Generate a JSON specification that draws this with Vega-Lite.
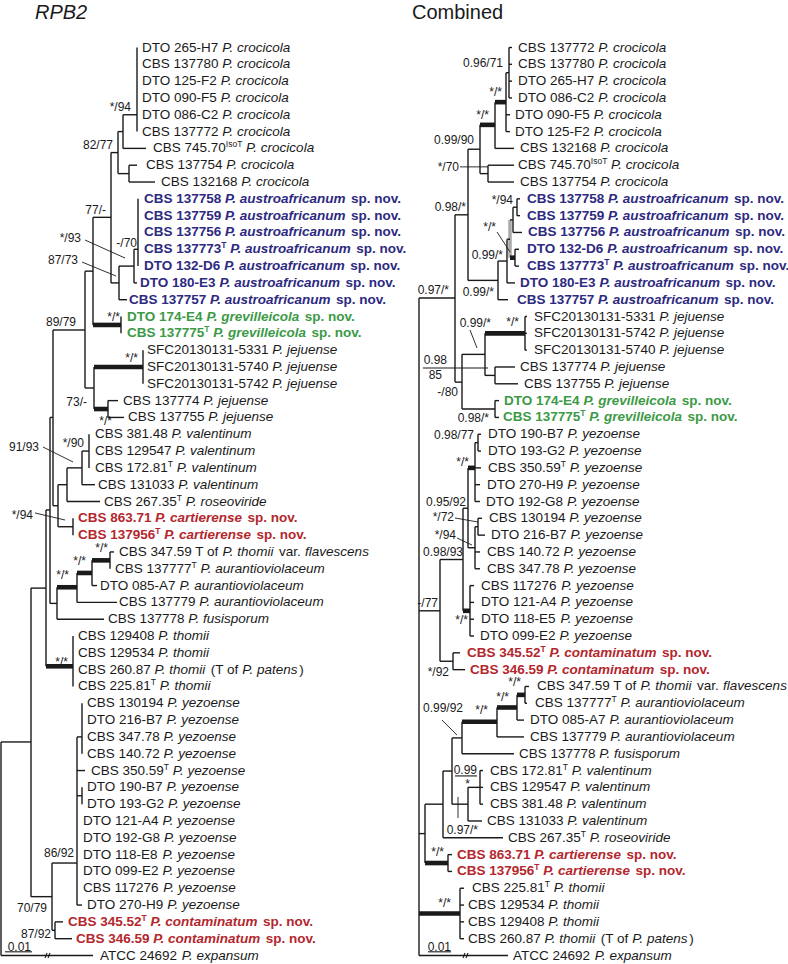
{
"$schema":"https://vega.github.io/schema/vega-lite/v6.json",
"padding":0,"spacing":0,"bounds":"flush","background":"white",
"config":{"view":{"stroke":null}},
"datasets":{
"segs":[
{"t":"L","x":136,"x2":136,"row":0,"row2":5,"k":"b"},{"t":"L","x":122,"x2":122,"row":4,"row2":6,"k":"b"},{"t":"L","x":117,"x2":117,"row":5,"row2":7.5,"k":"b"},{"t":"L","x":128,"x2":128,"row":7,"row2":8,"k":"b"},{"t":"L","x":110,"x2":110,"row":6.25,"row2":14,"k":"b"},{"t":"L","x":118,"x2":118,"row":13,"row2":15,"k":"b"},{"t":"L","x":133,"x2":133,"row":12,"row2":14,"k":"b"},{"t":"L","x":137,"x2":137,"row":9,"row2":13,"k":"b"},{"t":"L","x":92,"x2":92,"row":10.1,"row2":16.5,"k":"b"},{"t":"L","x":120,"x2":120,"row":16,"row2":17,"k":"b"},{"t":"L","x":84,"x2":84,"row":13.3,"row2":20.25,"k":"b"},{"t":"L","x":93,"x2":93,"row":19,"row2":21.5,"k":"b"},{"t":"L","x":142,"x2":142,"row":18,"row2":20,"k":"b"},{"t":"L","x":107,"x2":107,"row":21,"row2":22,"k":"b"},{"t":"L","x":52,"x2":52,"row":16.8,"row2":27.25,"k":"b"},{"t":"L","x":57,"x2":57,"row":26,"row2":28.5,"k":"b"},{"t":"L","x":66,"x2":66,"row":25,"row2":27,"k":"b"},{"t":"L","x":81,"x2":81,"row":24,"row2":26,"k":"b"},{"t":"L","x":88,"x2":88,"row":23,"row2":25,"k":"b"},{"t":"L","x":72,"x2":72,"row":28,"row2":29,"k":"b"},{"t":"L","x":49,"x2":49,"row":22,"row2":33.06,"k":"b"},{"t":"L","x":56,"x2":56,"row":32.1,"row2":34,"k":"b"},{"t":"L","x":76,"x2":76,"row":31.25,"row2":33,"k":"b"},{"t":"L","x":91,"x2":91,"row":30.5,"row2":32,"k":"b"},{"t":"L","x":109,"x2":109,"row":30,"row2":31,"k":"b"},{"t":"L","x":45,"x2":45,"row":27.5,"row2":36.8,"k":"b"},{"t":"L","x":72,"x2":72,"row":35,"row2":38,"k":"b"},{"t":"L","x":30,"x2":30,"row":32.15,"row2":50.5,"k":"b"},{"t":"L","x":51,"x2":51,"row":48.5,"row2":52.5,"k":"b"},{"t":"L","x":76,"x2":76,"row":41,"row2":51,"k":"b"},{"t":"L","x":81,"x2":81,"row":39,"row2":42,"k":"b"},{"t":"L","x":81,"x2":81,"row":44,"row2":45,"k":"b"},{"t":"L","x":54,"x2":54,"row":52,"row2":53,"k":"b"},{"t":"L","x":0,"x2":0,"row":41.3,"row2":54,"k":"b"},
{"t":"L","x":122,"x2":136,"row":4,"row2":4,"k":"b"},{"t":"L","x":122,"x2":145,"row":6,"row2":6,"k":"b"},{"t":"L","x":117,"x2":122,"row":5,"row2":5,"k":"b"},{"t":"L","x":117,"x2":128,"row":7.5,"row2":7.5,"k":"b"},{"t":"L","x":128,"x2":136,"row":7,"row2":7,"k":"b"},{"t":"L","x":128,"x2":154,"row":8,"row2":8,"k":"b"},{"t":"L","x":110,"x2":117,"row":6.25,"row2":6.25,"k":"b"},{"t":"L","x":110,"x2":118,"row":14,"row2":14,"k":"b"},{"t":"L","x":118,"x2":133,"row":13,"row2":13,"k":"b"},{"t":"L","x":133,"x2":137,"row":12,"row2":12,"k":"b"},{"t":"L","x":133,"x2":136,"row":14,"row2":14,"k":"b"},{"t":"L","x":118,"x2":126,"row":15,"row2":15,"k":"b"},{"t":"L","x":92,"x2":110,"row":10.1,"row2":10.1,"k":"b"},{"t":"L","x":92,"x2":120,"row":16.5,"row2":16.5,"k":"s"},{"t":"L","x":84,"x2":92,"row":13.3,"row2":13.3,"k":"b"},{"t":"L","x":84,"x2":93,"row":20.25,"row2":20.25,"k":"b"},{"t":"L","x":93,"x2":142,"row":19,"row2":19,"k":"s"},{"t":"L","x":93,"x2":107,"row":21.5,"row2":21.5,"k":"s"},{"t":"L","x":107,"x2":117,"row":21,"row2":21,"k":"b"},{"t":"L","x":107,"x2":123,"row":22,"row2":22,"k":"b"},{"t":"L","x":52,"x2":84,"row":16.8,"row2":16.8,"k":"b"},{"t":"L","x":52,"x2":57,"row":27.25,"row2":27.25,"k":"b"},{"t":"L","x":57,"x2":66,"row":26,"row2":26,"k":"b"},{"t":"L","x":66,"x2":81,"row":25,"row2":25,"k":"b"},{"t":"L","x":81,"x2":88,"row":24,"row2":24,"k":"b"},{"t":"L","x":81,"x2":94,"row":26,"row2":26,"k":"b"},{"t":"L","x":66,"x2":99,"row":27,"row2":27,"k":"b"},{"t":"L","x":57,"x2":72,"row":28.5,"row2":28.5,"k":"b"},{"t":"L","x":49,"x2":52,"row":22,"row2":22,"k":"b"},{"t":"L","x":49,"x2":56,"row":33.06,"row2":33.06,"k":"b"},{"t":"L","x":56,"x2":76,"row":32.1,"row2":32.1,"k":"s"},{"t":"L","x":76,"x2":91,"row":31.25,"row2":31.25,"k":"s"},{"t":"L","x":91,"x2":109,"row":30.5,"row2":30.5,"k":"s"},{"t":"L","x":109,"x2":113,"row":30,"row2":30,"k":"b"},{"t":"L","x":91,"x2":96,"row":32,"row2":32,"k":"b"},{"t":"L","x":76,"x2":116,"row":33,"row2":33,"k":"b"},{"t":"L","x":56,"x2":103,"row":34,"row2":34,"k":"b"},{"t":"L","x":45,"x2":49,"row":27.5,"row2":27.5,"k":"b"},{"t":"L","x":45,"x2":72,"row":36.8,"row2":36.8,"k":"s"},{"t":"L","x":30,"x2":45,"row":32.15,"row2":32.15,"k":"b"},{"t":"L","x":30,"x2":51,"row":50.5,"row2":50.5,"k":"b"},{"t":"L","x":51,"x2":76,"row":48.5,"row2":48.5,"k":"b"},{"t":"L","x":76,"x2":81,"row":41,"row2":41,"k":"b"},{"t":"L","x":76,"x2":84,"row":43,"row2":43,"k":"b"},{"t":"L","x":76,"x2":81,"row":44.5,"row2":44.5,"k":"b"},{"t":"L","x":76,"x2":81,"row":51,"row2":51,"k":"b"},{"t":"L","x":51,"x2":54,"row":52.5,"row2":52.5,"k":"b"},{"t":"L","x":54,"x2":62,"row":52,"row2":52,"k":"b"},{"t":"L","x":54,"x2":71,"row":53,"row2":53,"k":"b"},{"t":"L","x":0,"x2":30,"row":41.3,"row2":41.3,"k":"b"},{"t":"L","x":0,"x2":92,"row":54,"row2":54,"k":"b"},{"t":"L","x":4,"x2":31,"row":53.78,"row2":53.78,"k":"c"},
{"t":"L","x":84,"x2":124,"row":11.45,"row2":12.52,"k":"l"},{"t":"L","x":81,"x2":115,"row":12.76,"row2":13.59,"k":"l"},{"t":"L","x":42,"x2":72,"row":23.76,"row2":24.65,"k":"l"},{"t":"L","x":34,"x2":64,"row":27.68,"row2":28.1,"k":"l"},{"t":"L","x":44,"x2":46,"row":54.15,"row2":53.85,"k":"c"},{"t":"L","x":47,"x2":49,"row":54.15,"row2":53.85,"k":"c"},
{"t":"R","x":90,"x2":90,"row":0,"row2":3,"k":"b"},{"t":"R","x":87,"x2":87,"row":1.5,"row2":5,"k":"b"},{"t":"R","x":76,"x2":76,"row":3.25,"row2":6,"k":"b"},{"t":"R","x":61,"x2":61,"row":4.6,"row2":7.5,"k":"b"},{"t":"R","x":69,"x2":69,"row":7,"row2":8,"k":"b"},{"t":"R","x":49,"x2":49,"row":6.05,"row2":13.85,"k":"b"},{"t":"R","x":79,"x2":79,"row":12.7,"row2":15,"k":"b"},{"t":"R","x":88,"x2":88,"row":11.4,"row2":14,"k":"b"},{"t":"R","x":94,"x2":94,"row":9.5,"row2":11,"k":"b"},{"t":"R","x":98,"x2":98,"row":9,"row2":10,"k":"b"},{"t":"R","x":96,"x2":96,"row":12,"row2":13,"k":"b"},{"t":"R","x":36,"x2":36,"row":9.95,"row2":19.9,"k":"b"},{"t":"R","x":43,"x2":43,"row":18.25,"row2":21.5,"k":"b"},{"t":"R","x":66,"x2":66,"row":17,"row2":19.5,"k":"b"},{"t":"R","x":106,"x2":106,"row":16,"row2":18,"k":"b"},{"t":"R","x":76,"x2":76,"row":19,"row2":20,"k":"b"},{"t":"R","x":76,"x2":76,"row":21,"row2":22,"k":"b"},{"t":"R","x":0,"x2":0,"row":14.9,"row2":54,"k":"b"},{"t":"R","x":21,"x2":21,"row":30.45,"row2":36.5,"k":"b"},{"t":"R","x":44,"x2":44,"row":27.4,"row2":33.5,"k":"b"},{"t":"R","x":49,"x2":49,"row":25,"row2":29.75,"k":"b"},{"t":"R","x":56,"x2":56,"row":23.5,"row2":27,"k":"b"},{"t":"R","x":59,"x2":59,"row":23,"row2":24,"k":"b"},{"t":"R","x":56,"x2":56,"row":28.5,"row2":31,"k":"b"},{"t":"R","x":59,"x2":59,"row":28,"row2":29,"k":"b"},{"t":"R","x":51,"x2":51,"row":32,"row2":35,"k":"b"},{"t":"R","x":34,"x2":34,"row":36,"row2":37,"k":"b"},{"t":"R","x":6,"x2":6,"row":45,"row2":48.5,"k":"b"},{"t":"R","x":29,"x2":29,"row":48,"row2":49,"k":"b"},{"t":"R","x":24,"x2":24,"row":43.03,"row2":47,"k":"b"},{"t":"R","x":33,"x2":33,"row":41.06,"row2":45,"k":"b"},{"t":"R","x":43,"x2":43,"row":40.1,"row2":42,"k":"b"},{"t":"R","x":78,"x2":78,"row":39.25,"row2":41,"k":"b"},{"t":"R","x":98,"x2":98,"row":38.5,"row2":40,"k":"b"},{"t":"R","x":106,"x2":106,"row":38,"row2":39,"k":"b"},{"t":"R","x":49,"x2":49,"row":44,"row2":46,"k":"b"},{"t":"R","x":61,"x2":61,"row":43,"row2":45,"k":"b"},{"t":"R","x":41,"x2":41,"row":50,"row2":53,"k":"b"},{"t":"R","x":91,"x2":91,"row":10.25,"row2":12.5,"k":"g"},
{"t":"R","x":90,"x2":93,"row":0,"row2":0,"k":"b"},{"t":"R","x":90,"x2":93,"row":1,"row2":1,"k":"b"},{"t":"R","x":90,"x2":93,"row":2,"row2":2,"k":"b"},{"t":"R","x":90,"x2":93,"row":3,"row2":3,"k":"b"},{"t":"R","x":87,"x2":90,"row":1.5,"row2":1.5,"k":"b"},{"t":"R","x":87,"x2":91,"row":4,"row2":4,"k":"b"},{"t":"R","x":87,"x2":91,"row":5,"row2":5,"k":"b"},{"t":"R","x":76,"x2":87,"row":3.25,"row2":3.25,"k":"s"},{"t":"R","x":76,"x2":95,"row":6,"row2":6,"k":"b"},{"t":"R","x":61,"x2":76,"row":4.6,"row2":4.6,"k":"s"},{"t":"R","x":61,"x2":69,"row":7.5,"row2":7.5,"k":"b"},{"t":"R","x":69,"x2":95,"row":7,"row2":7,"k":"b"},{"t":"R","x":69,"x2":95,"row":8,"row2":8,"k":"b"},{"t":"R","x":49,"x2":61,"row":6.05,"row2":6.05,"k":"b"},{"t":"R","x":49,"x2":79,"row":13.85,"row2":13.85,"k":"b"},{"t":"R","x":79,"x2":89,"row":15,"row2":15,"k":"b"},{"t":"R","x":79,"x2":88,"row":12.7,"row2":12.7,"k":"b"},{"t":"R","x":88,"x2":96,"row":14,"row2":14,"k":"b"},{"t":"R","x":88,"x2":91,"row":11.4,"row2":11.4,"k":"b"},{"t":"R","x":91,"x2":94,"row":10.25,"row2":10.25,"k":"b"},{"t":"R","x":94,"x2":98,"row":9.5,"row2":9.5,"k":"b"},{"t":"R","x":98,"x2":101,"row":9,"row2":9,"k":"b"},{"t":"R","x":98,"x2":101,"row":10,"row2":10,"k":"b"},{"t":"R","x":94,"x2":103,"row":11,"row2":11,"k":"b"},{"t":"R","x":91,"x2":96,"row":12.5,"row2":12.5,"k":"s"},{"t":"R","x":96,"x2":100,"row":12,"row2":12,"k":"b"},{"t":"R","x":96,"x2":100,"row":13,"row2":13,"k":"b"},{"t":"R","x":36,"x2":49,"row":9.95,"row2":9.95,"k":"b"},{"t":"R","x":36,"x2":43,"row":19.9,"row2":19.9,"k":"b"},{"t":"R","x":43,"x2":66,"row":18.25,"row2":18.25,"k":"b"},{"t":"R","x":66,"x2":106,"row":17,"row2":17,"k":"s"},{"t":"R","x":106,"x2":108,"row":16,"row2":16,"k":"b"},{"t":"R","x":106,"x2":108,"row":17,"row2":17,"k":"b"},{"t":"R","x":106,"x2":108,"row":18,"row2":18,"k":"b"},{"t":"R","x":66,"x2":76,"row":19.5,"row2":19.5,"k":"b"},{"t":"R","x":76,"x2":96,"row":19,"row2":19,"k":"b"},{"t":"R","x":76,"x2":99,"row":20,"row2":20,"k":"b"},{"t":"R","x":43,"x2":76,"row":21.5,"row2":21.5,"k":"b"},{"t":"R","x":76,"x2":80,"row":21,"row2":21,"k":"b"},{"t":"R","x":76,"x2":80,"row":22,"row2":22,"k":"b"},{"t":"R","x":0,"x2":36,"row":14.9,"row2":14.9,"k":"b"},
{"t":"R","x":0,"x2":21,"row":33.5,"row2":33.5,"k":"b"},{"t":"R","x":21,"x2":44,"row":30.45,"row2":30.45,"k":"b"},{"t":"R","x":44,"x2":49,"row":27.4,"row2":27.4,"k":"b"},{"t":"R","x":49,"x2":56,"row":25,"row2":25,"k":"s"},{"t":"R","x":56,"x2":59,"row":23.5,"row2":23.5,"k":"b"},{"t":"R","x":59,"x2":62,"row":23,"row2":23,"k":"b"},{"t":"R","x":59,"x2":62,"row":24,"row2":24,"k":"b"},{"t":"R","x":56,"x2":62,"row":25,"row2":25,"k":"b"},{"t":"R","x":56,"x2":61,"row":26,"row2":26,"k":"b"},{"t":"R","x":56,"x2":61,"row":27,"row2":27,"k":"b"},{"t":"R","x":49,"x2":56,"row":29.75,"row2":29.75,"k":"b"},{"t":"R","x":56,"x2":59,"row":28.5,"row2":28.5,"k":"b"},{"t":"R","x":59,"x2":63,"row":28,"row2":28,"k":"b"},{"t":"R","x":59,"x2":66,"row":29,"row2":29,"k":"b"},{"t":"R","x":56,"x2":61,"row":30,"row2":30,"k":"b"},{"t":"R","x":56,"x2":61,"row":31,"row2":31,"k":"b"},{"t":"R","x":44,"x2":51,"row":33.5,"row2":33.5,"k":"s"},{"t":"R","x":51,"x2":55,"row":32,"row2":32,"k":"b"},{"t":"R","x":51,"x2":55,"row":33,"row2":33,"k":"b"},{"t":"R","x":51,"x2":55,"row":34,"row2":34,"k":"b"},{"t":"R","x":51,"x2":55,"row":35,"row2":35,"k":"b"},{"t":"R","x":21,"x2":34,"row":36.5,"row2":36.5,"k":"b"},{"t":"R","x":34,"x2":41,"row":36,"row2":36,"k":"b"},{"t":"R","x":34,"x2":46,"row":37,"row2":37,"k":"b"},
{"t":"R","x":0,"x2":6,"row":46.75,"row2":46.75,"k":"b"},{"t":"R","x":6,"x2":29,"row":48.5,"row2":48.5,"k":"s"},{"t":"R","x":29,"x2":33,"row":48,"row2":48,"k":"b"},{"t":"R","x":29,"x2":33,"row":49,"row2":49,"k":"b"},{"t":"R","x":6,"x2":24,"row":45,"row2":45,"k":"b"},{"t":"R","x":24,"x2":84,"row":47,"row2":47,"k":"b"},{"t":"R","x":24,"x2":33,"row":43.03,"row2":43.03,"k":"b"},{"t":"R","x":33,"x2":43,"row":41.06,"row2":41.06,"k":"b"},{"t":"R","x":43,"x2":95,"row":42,"row2":42,"k":"b"},{"t":"R","x":43,"x2":78,"row":40.1,"row2":40.1,"k":"s"},{"t":"R","x":78,"x2":105,"row":41,"row2":41,"k":"b"},{"t":"R","x":78,"x2":98,"row":39.25,"row2":39.25,"k":"s"},{"t":"R","x":98,"x2":105,"row":40,"row2":40,"k":"b"},{"t":"R","x":98,"x2":106,"row":38.5,"row2":38.5,"k":"s"},{"t":"R","x":106,"x2":110,"row":38,"row2":38,"k":"b"},{"t":"R","x":106,"x2":108,"row":39,"row2":39,"k":"b"},{"t":"R","x":33,"x2":49,"row":45,"row2":45,"k":"b"},{"t":"R","x":49,"x2":61,"row":44,"row2":44,"k":"b"},{"t":"R","x":61,"x2":64,"row":43,"row2":43,"k":"b"},{"t":"R","x":61,"x2":64,"row":44,"row2":44,"k":"b"},{"t":"R","x":61,"x2":64,"row":45,"row2":45,"k":"b"},{"t":"R","x":49,"x2":63,"row":46,"row2":46,"k":"b"},{"t":"R","x":0,"x2":41,"row":51.5,"row2":51.5,"k":"s"},{"t":"R","x":41,"x2":45,"row":50,"row2":50,"k":"b"},{"t":"R","x":41,"x2":45,"row":51,"row2":51,"k":"b"},{"t":"R","x":41,"x2":45,"row":52,"row2":52,"k":"b"},{"t":"R","x":41,"x2":45,"row":53,"row2":53,"k":"b"},{"t":"R","x":0,"x2":89,"row":54,"row2":54,"k":"b"},{"t":"R","x":9,"x2":32,"row":53.78,"row2":53.78,"k":"c"},{"t":"R","x":36,"x2":58,"row":43.32,"row2":43.32,"k":"c"},
{"t":"R","x":41,"x2":69,"row":7.1,"row2":7.1,"k":"l"},{"t":"R","x":78,"x2":91,"row":10.97,"row2":12.16,"k":"l"},{"t":"R","x":51,"x2":58,"row":16.8,"row2":17.87,"k":"l"},{"t":"R","x":4,"x2":69,"row":19.06,"row2":19.06,"k":"c"},{"t":"R","x":36,"x2":59,"row":27.98,"row2":28.22,"k":"l"},{"t":"R","x":38,"x2":53,"row":29.17,"row2":29.59,"k":"l"},{"t":"R","x":23,"x2":38,"row":40.0,"row2":40.89,"k":"l"},{"t":"R","x":39,"x2":39,"row":44.57,"row2":45.82,"k":"l"},{"t":"R","x":44,"x2":46,"row":54.15,"row2":53.85,"k":"c"},{"t":"R","x":47,"x2":49,"row":54.15,"row2":53.85,"k":"c"}
],
"runs":[
{"t":"L","row":-2.06,"x":34,"s":"RPB2","f":"Ti"},
{"t":"L","row":0,"x":141,"s":"DTO 265-H7","f":"r"},{"t":"L","row":0,"x":221.3,"s":"P. crocicola","f":"i"},
{"t":"L","row":1,"x":141,"s":"CBS 137780","f":"r"},{"t":"L","row":1,"x":221.3,"s":"P. crocicola","f":"i"},
{"t":"L","row":2,"x":141,"s":"DTO 125-F2","f":"r"},{"t":"L","row":2,"x":219.8,"s":"P. crocicola","f":"i"},
{"t":"L","row":3,"x":141,"s":"DTO 090-F5","f":"r"},{"t":"L","row":3,"x":219.8,"s":"P. crocicola","f":"i"},
{"t":"L","row":4,"x":141,"s":"DTO 086-C2","f":"r"},{"t":"L","row":4,"x":221.3,"s":"P. crocicola","f":"i"},
{"t":"L","row":5,"x":141,"s":"CBS 137772","f":"r"},{"t":"L","row":5,"x":221.3,"s":"P. crocicola","f":"i"},
{"t":"L","row":6,"x":152,"s":"CBS 745.70","f":"r"},{"t":"L","row":6,"x":224.8,"s":"IsoT","f":"s"},{"t":"L","row":6,"x":245.1,"s":"P. crocicola","f":"i"},
{"t":"L","row":7,"x":145,"s":"CBS 137754","f":"r"},{"t":"L","row":7,"x":225.3,"s":"P. crocicola","f":"i"},
{"t":"L","row":8,"x":160,"s":"CBS 132168","f":"r"},{"t":"L","row":8,"x":240.3,"s":"P. crocicola","f":"i"},
{"t":"L","row":9,"x":143,"s":"CBS 137758","f":"b","c":"au"},{"t":"L","row":9,"x":224,"s":"P. austroafricanum","f":"bi","c":"au"},{"t":"L","row":9,"x":350.1,"s":"sp. nov.","f":"b","c":"au"},
{"t":"L","row":10,"x":143,"s":"CBS 137759","f":"b","c":"au"},{"t":"L","row":10,"x":224,"s":"P. austroafricanum","f":"bi","c":"au"},{"t":"L","row":10,"x":350.1,"s":"sp. nov.","f":"b","c":"au"},
{"t":"L","row":11,"x":143,"s":"CBS 137756","f":"b","c":"au"},{"t":"L","row":11,"x":224,"s":"P. austroafricanum","f":"bi","c":"au"},{"t":"L","row":11,"x":350.1,"s":"sp. nov.","f":"b","c":"au"},
{"t":"L","row":12,"x":143,"s":"CBS 137773","f":"b","c":"au"},{"t":"L","row":12,"x":220.3,"s":"T","f":"sb","c":"au"},{"t":"L","row":12,"x":229.2,"s":"P. austroafricanum","f":"bi","c":"au"},{"t":"L","row":12,"x":355.2,"s":"sp. nov.","f":"b","c":"au"},
{"t":"L","row":13,"x":143,"s":"DTO 132-D6","f":"b","c":"au"},{"t":"L","row":13,"x":223.3,"s":"P. austroafricanum","f":"bi","c":"au"},{"t":"L","row":13,"x":349.3,"s":"sp. nov.","f":"b","c":"au"},
{"t":"L","row":14,"x":139,"s":"DTO 180-E3","f":"b","c":"au"},{"t":"L","row":14,"x":218.5,"s":"P. austroafricanum","f":"bi","c":"au"},{"t":"L","row":14,"x":344.6,"s":"sp. nov.","f":"b","c":"au"},
{"t":"L","row":15,"x":128,"s":"CBS 137757","f":"b","c":"au"},{"t":"L","row":15,"x":209,"s":"P. austroafricanum","f":"bi","c":"au"},{"t":"L","row":15,"x":335.1,"s":"sp. nov.","f":"b","c":"au"},
{"t":"L","row":16,"x":126,"s":"DTO 174-E4","f":"b","c":"gr"},{"t":"L","row":16,"x":205.5,"s":"P. grevilleicola","f":"bi","c":"gr"},{"t":"L","row":16,"x":303.8,"s":"sp. nov.","f":"b","c":"gr"},
{"t":"L","row":17,"x":126,"s":"CBS 137775","f":"b","c":"gr"},{"t":"L","row":17,"x":203.3,"s":"T","f":"sb","c":"gr"},{"t":"L","row":17,"x":212.2,"s":"P. grevilleicola","f":"bi","c":"gr"},{"t":"L","row":17,"x":310.5,"s":"sp. nov.","f":"b","c":"gr"},
{"t":"L","row":18,"x":146,"s":"SFC20130131-5331","f":"r"},{"t":"L","row":18,"x":271.3,"s":"P. jejuense","f":"i"},
{"t":"L","row":19,"x":146,"s":"SFC20130131-5740","f":"r"},{"t":"L","row":19,"x":271.3,"s":"P. jejuense","f":"i"},
{"t":"L","row":20,"x":146,"s":"SFC20130131-5742","f":"r"},{"t":"L","row":20,"x":271.3,"s":"P. jejuense","f":"i"},
{"t":"L","row":21,"x":122,"s":"CBS 137774","f":"r"},{"t":"L","row":21,"x":202.3,"s":"P. jejuense","f":"i"},
{"t":"L","row":22,"x":127,"s":"CBS 137755","f":"r"},{"t":"L","row":22,"x":207.3,"s":"P. jejuense","f":"i"},
{"t":"L","row":23,"x":94,"s":"CBS 381.48","f":"r"},{"t":"L","row":23,"x":170.5,"s":"P. valentinum","f":"i"},
{"t":"L","row":24,"x":94,"s":"CBS 129547","f":"r"},{"t":"L","row":24,"x":174.3,"s":"P. valentinum","f":"i"},
{"t":"L","row":25,"x":94,"s":"CBS 172.81","f":"r"},{"t":"L","row":25,"x":166.8,"s":"T","f":"s"},{"t":"L","row":25,"x":175.7,"s":"P. valentinum","f":"i"},
{"t":"L","row":26,"x":97,"s":"CBS 131033","f":"r"},{"t":"L","row":26,"x":177.3,"s":"P. valentinum","f":"i"},
{"t":"L","row":27,"x":103,"s":"CBS 267.35","f":"r"},{"t":"L","row":27,"x":175.8,"s":"T","f":"s"},{"t":"L","row":27,"x":184.7,"s":"P. roseoviride","f":"i"},
{"t":"L","row":28,"x":77,"s":"CBS 863.71","f":"b","c":"rd"},{"t":"L","row":28,"x":154.3,"s":"P. cartierense","f":"bi","c":"rd"},{"t":"L","row":28,"x":246.6,"s":"sp. nov.","f":"b","c":"rd"},
{"t":"L","row":29,"x":77,"s":"CBS 137956","f":"b","c":"rd"},{"t":"L","row":29,"x":154.3,"s":"T","f":"sb","c":"rd"},{"t":"L","row":29,"x":163.2,"s":"P. cartierense","f":"bi","c":"rd"},{"t":"L","row":29,"x":255.5,"s":"sp. nov.","f":"b","c":"rd"},
{"t":"L","row":30,"x":118,"s":"CBS 347.59 T of","f":"r"},{"t":"L","row":30,"x":221.6,"s":"P. thomii","f":"i"},{"t":"L","row":30,"x":277.9,"s":"var.","f":"r"},{"t":"L","row":30,"x":304.1,"s":"flavescens","f":"i"},
{"t":"L","row":31,"x":114,"s":"CBS 137777","f":"r"},{"t":"L","row":31,"x":190.5,"s":"T","f":"s"},{"t":"L","row":31,"x":199.5,"s":"P. aurantioviolaceum","f":"i"},
{"t":"L","row":32,"x":99,"s":"DTO 085-A7","f":"r"},{"t":"L","row":32,"x":178.5,"s":"P. aurantioviolaceum","f":"i"},
{"t":"L","row":33,"x":118,"s":"CBS 137779","f":"r"},{"t":"L","row":33,"x":198.3,"s":"P. aurantioviolaceum","f":"i"},
{"t":"L","row":34,"x":107,"s":"CBS 137778","f":"r"},{"t":"L","row":34,"x":187.3,"s":"P. fusisporum","f":"i"},
{"t":"L","row":35,"x":77,"s":"CBS 129408","f":"r"},{"t":"L","row":35,"x":157.3,"s":"P. thomii","f":"i"},
{"t":"L","row":36,"x":77,"s":"CBS 129534","f":"r"},{"t":"L","row":36,"x":157.3,"s":"P. thomii","f":"i"},
{"t":"L","row":37,"x":77,"s":"CBS 260.87","f":"r"},{"t":"L","row":37,"x":153.5,"s":"P. thomii","f":"i"},{"t":"L","row":37,"x":209.8,"s":"(T of","f":"r"},{"t":"L","row":37,"x":241.3,"s":"P. patens","f":"i"},{"t":"L","row":37,"x":298.3,"s":")","f":"r"},
{"t":"L","row":38,"x":77,"s":"CBS 225.81","f":"r"},{"t":"L","row":38,"x":149.8,"s":"T","f":"s"},{"t":"L","row":38,"x":158.7,"s":"P. thomii","f":"i"},
{"t":"L","row":39,"x":86,"s":"CBS 130194","f":"r"},{"t":"L","row":39,"x":166.3,"s":"P. yezoense","f":"i"},
{"t":"L","row":40,"x":86,"s":"DTO 216-B7","f":"r"},{"t":"L","row":40,"x":165.5,"s":"P. yezoense","f":"i"},
{"t":"L","row":41,"x":86,"s":"CBS 347.78","f":"r"},{"t":"L","row":41,"x":162.5,"s":"P. yezoense","f":"i"},
{"t":"L","row":42,"x":86,"s":"CBS 140.72","f":"r"},{"t":"L","row":42,"x":162.5,"s":"P. yezoense","f":"i"},
{"t":"L","row":43,"x":90,"s":"CBS 350.59","f":"r"},{"t":"L","row":43,"x":162.8,"s":"T","f":"s"},{"t":"L","row":43,"x":171.7,"s":"P. yezoense","f":"i"},
{"t":"L","row":44,"x":86,"s":"DTO 190-B7","f":"r"},{"t":"L","row":44,"x":165.5,"s":"P. yezoense","f":"i"},
{"t":"L","row":45,"x":86,"s":"DTO 193-G2","f":"r"},{"t":"L","row":45,"x":167,"s":"P. yezoense","f":"i"},
{"t":"L","row":46,"x":82,"s":"DTO 121-A4","f":"r"},{"t":"L","row":46,"x":161.5,"s":"P. yezoense","f":"i"},
{"t":"L","row":47,"x":82,"s":"DTO 192-G8","f":"r"},{"t":"L","row":47,"x":163,"s":"P. yezoense","f":"i"},
{"t":"L","row":48,"x":82,"s":"DTO 118-E8","f":"r"},{"t":"L","row":48,"x":161.5,"s":"P. yezoense","f":"i"},
{"t":"L","row":49,"x":82,"s":"DTO 099-E2","f":"r"},{"t":"L","row":49,"x":161.5,"s":"P. yezoense","f":"i"},
{"t":"L","row":50,"x":82,"s":"CBS 117276","f":"r"},{"t":"L","row":50,"x":162.3,"s":"P. yezoense","f":"i"},
{"t":"L","row":51,"x":86,"s":"DTO 270-H9","f":"r"},{"t":"L","row":51,"x":166.3,"s":"P. yezoense","f":"i"},
{"t":"L","row":52,"x":67,"s":"CBS 345.52","f":"b","c":"rd"},{"t":"L","row":52,"x":140.5,"s":"T","f":"sb","c":"rd"},{"t":"L","row":52,"x":149.5,"s":"P. contaminatum","f":"bi","c":"rd"},{"t":"L","row":52,"x":262,"s":"sp. nov.","f":"b","c":"rd"},
{"t":"L","row":53,"x":75,"s":"CBS 346.59","f":"b","c":"rd"},{"t":"L","row":53,"x":152.3,"s":"P. contaminatum","f":"bi","c":"rd"},{"t":"L","row":53,"x":264.8,"s":"sp. nov.","f":"b","c":"rd"},
{"t":"L","row":54,"x":99,"s":"ATCC 24692","f":"r"},{"t":"L","row":54,"x":180.8,"s":"P. expansum","f":"i"},
{"t":"L","row":3.54,"x":130,"s":"*/94","f":"n"},{"t":"L","row":5.8,"x":112,"s":"82/77","f":"n"},{"t":"L","row":9.66,"x":105,"s":"77/-","f":"n"},{"t":"L","row":11.63,"x":136,"s":"-/70","f":"n"},{"t":"L","row":11.33,"x":80,"s":"*/93","f":"n"},{"t":"L","row":12.64,"x":77,"s":"87/73","f":"n"},{"t":"L","row":16.03,"x":119,"s":"*/*","f":"n"},{"t":"L","row":16.32,"x":75,"s":"89/79","f":"n"},{"t":"L","row":18.47,"x":137,"s":"*/*","f":"n"},{"t":"L","row":21.08,"x":86,"s":"73/-","f":"n"},{"t":"L","row":22.21,"x":111,"s":"*/*","f":"n"},{"t":"L","row":23.76,"x":38,"s":"91/93","f":"n"},{"t":"L","row":23.52,"x":83,"s":"*/90","f":"n"},{"t":"L","row":27.8,"x":32,"s":"*/94","f":"n"},{"t":"L","row":29.76,"x":107,"s":"*/*","f":"n"},{"t":"L","row":30.54,"x":85,"s":"*/*","f":"n"},{"t":"L","row":31.37,"x":68,"s":"*/*","f":"n"},{"t":"L","row":36.55,"x":67,"s":"*/*","f":"n"},{"t":"L","row":47.9,"x":73,"s":"86/92","f":"n"},{"t":"L","row":51.2,"x":46,"s":"70/79","f":"n"},{"t":"L","row":52.72,"x":50,"s":"87/92","f":"n"},{"t":"L","row":53.5,"x":30,"s":"0.01","f":"n"},
{"t":"R","row":-2.06,"x":-7,"s":"Combined","f":"T"},
{"t":"R","row":0,"x":99,"s":"CBS 137772","f":"r"},{"t":"R","row":0,"x":179.3,"s":"P. crocicola","f":"i"},
{"t":"R","row":1,"x":99,"s":"CBS 137780","f":"r"},{"t":"R","row":1,"x":179.3,"s":"P. crocicola","f":"i"},
{"t":"R","row":2,"x":99,"s":"DTO 265-H7","f":"r"},{"t":"R","row":2,"x":179.3,"s":"P. crocicola","f":"i"},
{"t":"R","row":3,"x":99,"s":"DTO 086-C2","f":"r"},{"t":"R","row":3,"x":179.3,"s":"P. crocicola","f":"i"},
{"t":"R","row":4,"x":96,"s":"DTO 090-F5","f":"r"},{"t":"R","row":4,"x":174.8,"s":"P. crocicola","f":"i"},
{"t":"R","row":5,"x":96,"s":"DTO 125-F2","f":"r"},{"t":"R","row":5,"x":174.8,"s":"P. crocicola","f":"i"},
{"t":"R","row":6,"x":101,"s":"CBS 132168","f":"r"},{"t":"R","row":6,"x":181.3,"s":"P. crocicola","f":"i"},
{"t":"R","row":7,"x":99,"s":"CBS 745.70","f":"r"},{"t":"R","row":7,"x":171.8,"s":"IsoT","f":"s"},{"t":"R","row":7,"x":192.1,"s":"P. crocicola","f":"i"},
{"t":"R","row":8,"x":101,"s":"CBS 137754","f":"r"},{"t":"R","row":8,"x":181.3,"s":"P. crocicola","f":"i"},
{"t":"R","row":9,"x":108,"s":"CBS 137758","f":"b","c":"au"},{"t":"R","row":9,"x":189,"s":"P. austroafricanum","f":"bi","c":"au"},{"t":"R","row":9,"x":315.1,"s":"sp. nov.","f":"b","c":"au"},
{"t":"R","row":10,"x":108,"s":"CBS 137759","f":"b","c":"au"},{"t":"R","row":10,"x":189,"s":"P. austroafricanum","f":"bi","c":"au"},{"t":"R","row":10,"x":315.1,"s":"sp. nov.","f":"b","c":"au"},
{"t":"R","row":11,"x":109,"s":"CBS 137756","f":"b","c":"au"},{"t":"R","row":11,"x":190,"s":"P. austroafricanum","f":"bi","c":"au"},{"t":"R","row":11,"x":316.1,"s":"sp. nov.","f":"b","c":"au"},
{"t":"R","row":12,"x":108,"s":"DTO 132-D6","f":"b","c":"au"},{"t":"R","row":12,"x":188.3,"s":"P. austroafricanum","f":"bi","c":"au"},{"t":"R","row":12,"x":314.3,"s":"sp. nov.","f":"b","c":"au"},
{"t":"R","row":13,"x":108,"s":"CBS 137773","f":"b","c":"au"},{"t":"R","row":13,"x":185.3,"s":"T","f":"sb","c":"au"},{"t":"R","row":13,"x":194.2,"s":"P. austroafricanum","f":"bi","c":"au"},{"t":"R","row":13,"x":320.2,"s":"sp. nov.","f":"b","c":"au"},
{"t":"R","row":14,"x":101,"s":"DTO 180-E3","f":"b","c":"au"},{"t":"R","row":14,"x":180.5,"s":"P. austroafricanum","f":"bi","c":"au"},{"t":"R","row":14,"x":306.6,"s":"sp. nov.","f":"b","c":"au"},
{"t":"R","row":15,"x":98,"s":"CBS 137757","f":"b","c":"au"},{"t":"R","row":15,"x":179,"s":"P. austroafricanum","f":"bi","c":"au"},{"t":"R","row":15,"x":305.1,"s":"sp. nov.","f":"b","c":"au"},
{"t":"R","row":16,"x":115,"s":"SFC20130131-5331","f":"r"},{"t":"R","row":16,"x":240.3,"s":"P. jejuense","f":"i"},
{"t":"R","row":17,"x":115,"s":"SFC20130131-5742","f":"r"},{"t":"R","row":17,"x":240.3,"s":"P. jejuense","f":"i"},
{"t":"R","row":18,"x":115,"s":"SFC20130131-5740","f":"r"},{"t":"R","row":18,"x":240.3,"s":"P. jejuense","f":"i"},
{"t":"R","row":19,"x":101,"s":"CBS 137774","f":"r"},{"t":"R","row":19,"x":181.3,"s":"P. jejuense","f":"i"},
{"t":"R","row":20,"x":105,"s":"CBS 137755","f":"r"},{"t":"R","row":20,"x":185.3,"s":"P. jejuense","f":"i"},
{"t":"R","row":21,"x":85,"s":"DTO 174-E4","f":"b","c":"gr"},{"t":"R","row":21,"x":164.5,"s":"P. grevilleicola","f":"bi","c":"gr"},{"t":"R","row":21,"x":262.8,"s":"sp. nov.","f":"b","c":"gr"},
{"t":"R","row":22,"x":84,"s":"CBS 137775","f":"b","c":"gr"},{"t":"R","row":22,"x":161.3,"s":"T","f":"sb","c":"gr"},{"t":"R","row":22,"x":170.2,"s":"P. grevilleicola","f":"bi","c":"gr"},{"t":"R","row":22,"x":268.5,"s":"sp. nov.","f":"b","c":"gr"},
{"t":"R","row":23,"x":69,"s":"DTO 190-B7","f":"r"},{"t":"R","row":23,"x":148.5,"s":"P. yezoense","f":"i"},
{"t":"R","row":24,"x":69,"s":"DTO 193-G2","f":"r"},{"t":"R","row":24,"x":150,"s":"P. yezoense","f":"i"},
{"t":"R","row":25,"x":69,"s":"CBS 350.59","f":"r"},{"t":"R","row":25,"x":141.8,"s":"T","f":"s"},{"t":"R","row":25,"x":150.7,"s":"P. yezoense","f":"i"},
{"t":"R","row":26,"x":68,"s":"DTO 270-H9","f":"r"},{"t":"R","row":26,"x":148.3,"s":"P. yezoense","f":"i"},
{"t":"R","row":27,"x":67,"s":"DTO 192-G8","f":"r"},{"t":"R","row":27,"x":148,"s":"P. yezoense","f":"i"},
{"t":"R","row":28,"x":70,"s":"CBS 130194","f":"r"},{"t":"R","row":28,"x":150.3,"s":"P. yezoense","f":"i"},
{"t":"R","row":29,"x":72,"s":"DTO 216-B7","f":"r"},{"t":"R","row":29,"x":151.5,"s":"P. yezoense","f":"i"},
{"t":"R","row":30,"x":68,"s":"CBS 140.72","f":"r"},{"t":"R","row":30,"x":144.5,"s":"P. yezoense","f":"i"},
{"t":"R","row":31,"x":68,"s":"CBS 347.78","f":"r"},{"t":"R","row":31,"x":144.5,"s":"P. yezoense","f":"i"},
{"t":"R","row":32,"x":62,"s":"CBS 117276","f":"r"},{"t":"R","row":32,"x":142.3,"s":"P. yezoense","f":"i"},
{"t":"R","row":33,"x":62,"s":"DTO 121-A4","f":"r"},{"t":"R","row":33,"x":141.5,"s":"P. yezoense","f":"i"},
{"t":"R","row":34,"x":62,"s":"DTO 118-E5","f":"r"},{"t":"R","row":34,"x":141.5,"s":"P. yezoense","f":"i"},
{"t":"R","row":35,"x":61,"s":"DTO 099-E2","f":"r"},{"t":"R","row":35,"x":140.5,"s":"P. yezoense","f":"i"},
{"t":"R","row":36,"x":48,"s":"CBS 345.52","f":"b","c":"rd"},{"t":"R","row":36,"x":121.5,"s":"T","f":"sb","c":"rd"},{"t":"R","row":36,"x":130.5,"s":"P. contaminatum","f":"bi","c":"rd"},{"t":"R","row":36,"x":243,"s":"sp. nov.","f":"b","c":"rd"},
{"t":"R","row":37,"x":51,"s":"CBS 346.59","f":"b","c":"rd"},{"t":"R","row":37,"x":128.3,"s":"P. contaminatum","f":"bi","c":"rd"},{"t":"R","row":37,"x":240.8,"s":"sp. nov.","f":"b","c":"rd"},
{"t":"R","row":38,"x":118,"s":"CBS 347.59 T of","f":"r"},{"t":"R","row":38,"x":221.6,"s":"P. thomii","f":"i"},{"t":"R","row":38,"x":277.9,"s":"var.","f":"r"},{"t":"R","row":38,"x":304.1,"s":"flavescens","f":"i"},
{"t":"R","row":39,"x":116,"s":"CBS 137777","f":"r"},{"t":"R","row":39,"x":192.5,"s":"T","f":"s"},{"t":"R","row":39,"x":201.5,"s":"P. aurantioviolaceum","f":"i"},
{"t":"R","row":40,"x":111,"s":"DTO 085-A7","f":"r"},{"t":"R","row":40,"x":190.5,"s":"P. aurantioviolaceum","f":"i"},
{"t":"R","row":41,"x":111,"s":"CBS 137779","f":"r"},{"t":"R","row":41,"x":191.3,"s":"P. aurantioviolaceum","f":"i"},
{"t":"R","row":42,"x":100,"s":"CBS 137778","f":"r"},{"t":"R","row":42,"x":180.3,"s":"P. fusisporum","f":"i"},
{"t":"R","row":43,"x":71,"s":"CBS 172.81","f":"r"},{"t":"R","row":43,"x":143.8,"s":"T","f":"s"},{"t":"R","row":43,"x":152.7,"s":"P. valentinum","f":"i"},
{"t":"R","row":44,"x":71,"s":"CBS 129547","f":"r"},{"t":"R","row":44,"x":151.3,"s":"P. valentinum","f":"i"},
{"t":"R","row":45,"x":71,"s":"CBS 381.48","f":"r"},{"t":"R","row":45,"x":147.5,"s":"P. valentinum","f":"i"},
{"t":"R","row":46,"x":68,"s":"CBS 131033","f":"r"},{"t":"R","row":46,"x":148.3,"s":"P. valentinum","f":"i"},
{"t":"R","row":47,"x":89,"s":"CBS 267.35","f":"r"},{"t":"R","row":47,"x":161.8,"s":"T","f":"s"},{"t":"R","row":47,"x":170.7,"s":"P. roseoviride","f":"i"},
{"t":"R","row":48,"x":38,"s":"CBS 863.71","f":"b","c":"rd"},{"t":"R","row":48,"x":115.3,"s":"P. cartierense","f":"bi","c":"rd"},{"t":"R","row":48,"x":207.6,"s":"sp. nov.","f":"b","c":"rd"},
{"t":"R","row":49,"x":38,"s":"CBS 137956","f":"b","c":"rd"},{"t":"R","row":49,"x":115.3,"s":"T","f":"sb","c":"rd"},{"t":"R","row":49,"x":124.2,"s":"P. cartierense","f":"bi","c":"rd"},{"t":"R","row":49,"x":216.5,"s":"sp. nov.","f":"b","c":"rd"},
{"t":"R","row":50,"x":53,"s":"CBS 225.81","f":"r"},{"t":"R","row":50,"x":125.8,"s":"T","f":"s"},{"t":"R","row":50,"x":134.7,"s":"P. thomii","f":"i"},
{"t":"R","row":51,"x":49,"s":"CBS 129534","f":"r"},{"t":"R","row":51,"x":129.3,"s":"P. thomii","f":"i"},
{"t":"R","row":52,"x":49,"s":"CBS 129408","f":"r"},{"t":"R","row":52,"x":129.3,"s":"P. thomii","f":"i"},
{"t":"R","row":53,"x":49,"s":"CBS 260.87","f":"r"},{"t":"R","row":53,"x":125.5,"s":"P. thomii","f":"i"},{"t":"R","row":53,"x":181.8,"s":"(T of","f":"r"},{"t":"R","row":53,"x":213.3,"s":"P. patens","f":"i"},{"t":"R","row":53,"x":270.3,"s":")","f":"r"},
{"t":"R","row":54,"x":94,"s":"ATCC 24692","f":"r"},{"t":"R","row":54,"x":175.8,"s":"P. expansum","f":"i"},
{"t":"R","row":0.92,"x":84,"s":"0.96/71","f":"n"},{"t":"R","row":2.65,"x":83,"s":"*/*","f":"n"},{"t":"R","row":4.01,"x":70,"s":"*/*","f":"n"},{"t":"R","row":5.5,"x":55,"s":"0.99/90","f":"n"},{"t":"R","row":7.1,"x":40,"s":"*/70","f":"n"},{"t":"R","row":9.48,"x":47,"s":"0.98/*","f":"n"},{"t":"R","row":9.07,"x":94,"s":"*/94","f":"n"},{"t":"R","row":10.67,"x":77,"s":"*/*","f":"n"},{"t":"R","row":12.34,"x":84,"s":"0.99/*","f":"n"},{"t":"R","row":14.42,"x":30,"s":"0.97/*","f":"n"},{"t":"R","row":14.54,"x":75,"s":"0.99/*","f":"n"},{"t":"R","row":16.38,"x":72,"s":"0.99/*","f":"n"},{"t":"R","row":16.32,"x":100,"s":"*/*","f":"n"},{"t":"R","row":18.58,"x":28,"s":"0.98","f":"n"},{"t":"R","row":19.48,"x":23,"s":"85","f":"n"},{"t":"R","row":20.49,"x":39,"s":"-/80","f":"n"},{"t":"R","row":22.03,"x":70,"s":"0.98/*","f":"n"},{"t":"R","row":23.04,"x":55,"s":"0.98/77","f":"n"},{"t":"R","row":24.65,"x":50,"s":"*/*","f":"n"},{"t":"R","row":27.03,"x":47,"s":"0.95/92","f":"n"},{"t":"R","row":27.92,"x":35,"s":"*/72","f":"n"},{"t":"R","row":28.99,"x":37,"s":"*/94","f":"n"},{"t":"R","row":30,"x":44,"s":"0.98/93","f":"n"},{"t":"R","row":33.03,"x":19,"s":"-/77","f":"n"},{"t":"R","row":34.05,"x":49,"s":"*/*","f":"n"},{"t":"R","row":37.14,"x":30,"s":"*/92","f":"n"},{"t":"R","row":37.73,"x":102,"s":"*/*","f":"n"},{"t":"R","row":38.6,"x":90,"s":"*/*","f":"n"},{"t":"R","row":39.4,"x":69,"s":"*/*","f":"n"},{"t":"R","row":39.28,"x":44,"s":"0.99/92","f":"n"},{"t":"R","row":42.98,"x":58,"s":"0.99","f":"n"},{"t":"R","row":43.8,"x":51,"s":"*","f":"n"},{"t":"R","row":46.54,"x":59,"s":"0.97/*","f":"n"},{"t":"R","row":47.84,"x":25,"s":"*/*","f":"n"},{"t":"R","row":50.88,"x":32,"s":"*/*","f":"n"},{"t":"R","row":53.5,"x":32,"s":"0.01","f":"n"}
]
},
"hconcat":[
{"width":390,"height":964,
"encoding":{"x":{"field":"x","type":"quantitative","scale":{"domain":[-1,389],"nice":false,"zero":false},"axis":null},"y":{"field":"row","type":"quantitative","scale":{"domain":[-2.825,54.505],"reverse":true,"nice":false,"zero":false},"axis":null}},
"layer":[
{"data":{"name":"segs"},"transform":[{"filter":"datum.t=='L' && datum.k=='b'"}],"mark":{"type":"rule","color":"#1a1a1a","strokeWidth":1.4},"encoding":{"x2":{"field":"x2"},"y2":{"field":"row2"}}},
{"data":{"name":"segs"},"transform":[{"filter":"datum.t=='L' && datum.k=='s'"}],"mark":{"type":"rule","color":"#1a1a1a","strokeWidth":4.6},"encoding":{"x2":{"field":"x2"},"y2":{"field":"row2"}}},
{"data":{"name":"segs"},"transform":[{"filter":"datum.t=='L' && datum.k=='l'"}],"mark":{"type":"rule","color":"#1a1a1a","strokeWidth":0.9},"encoding":{"x2":{"field":"x2"},"y2":{"field":"row2"}}},
{"data":{"name":"segs"},"transform":[{"filter":"datum.t=='L' && datum.k=='c'"}],"mark":{"type":"rule","color":"#1a1a1a","strokeWidth":1.1},"encoding":{"x2":{"field":"x2"},"y2":{"field":"row2"}}},
{"data":{"name":"runs"},"transform":[{"filter":"datum.t=='L' && datum.f=='r'"}],"mark":{"type":"text","align":"left","baseline":"middle","font":"Liberation Sans","fontSize":13.5,"color":"#1a1a1a"},"encoding":{"text":{"field":"s"}}},
{"data":{"name":"runs"},"transform":[{"filter":"datum.t=='L' && datum.f=='i'"}],"mark":{"type":"text","align":"left","baseline":"middle","font":"Liberation Sans","fontSize":13.5,"fontStyle":"italic","color":"#1a1a1a"},"encoding":{"text":{"field":"s"}}},
{"data":{"name":"runs"},"transform":[{"filter":"datum.t=='L' && datum.f=='s'"}],"mark":{"type":"text","align":"left","baseline":"middle","font":"Liberation Sans","fontSize":8.5,"dy":-4,"color":"#1a1a1a"},"encoding":{"text":{"field":"s"}}},
{"data":{"name":"runs"},"transform":[{"filter":"datum.t=='L' && datum.f=='b'"}],"mark":{"type":"text","align":"left","baseline":"middle","font":"Liberation Sans","fontSize":13.5,"fontWeight":"bold"},"encoding":{"text":{"field":"s"},"color":{"field":"c","type":"nominal","scale":{"domain":["au","gr","rd"],"range":["#2d2a80","#3c9a46","#b3272d"]},"legend":null}}},
{"data":{"name":"runs"},"transform":[{"filter":"datum.t=='L' && datum.f=='bi'"}],"mark":{"type":"text","align":"left","baseline":"middle","font":"Liberation Sans","fontSize":13.5,"fontWeight":"bold","fontStyle":"italic"},"encoding":{"text":{"field":"s"},"color":{"field":"c","type":"nominal","scale":{"domain":["au","gr","rd"],"range":["#2d2a80","#3c9a46","#b3272d"]},"legend":null}}},
{"data":{"name":"runs"},"transform":[{"filter":"datum.t=='L' && datum.f=='sb'"}],"mark":{"type":"text","align":"left","baseline":"middle","font":"Liberation Sans","fontSize":8.5,"dy":-4,"fontWeight":"bold"},"encoding":{"text":{"field":"s"},"color":{"field":"c","type":"nominal","scale":{"domain":["au","gr","rd"],"range":["#2d2a80","#3c9a46","#b3272d"]},"legend":null}}},
{"data":{"name":"runs"},"transform":[{"filter":"datum.t=='L' && datum.f=='Ti'"}],"mark":{"type":"text","align":"left","baseline":"middle","font":"Liberation Sans","fontSize":20,"fontStyle":"italic","color":"#1a1a1a"},"encoding":{"text":{"field":"s"}}},
{"data":{"name":"runs"},"transform":[{"filter":"datum.t=='L' && datum.f=='n'"}],"mark":{"type":"text","align":"right","baseline":"middle","font":"Liberation Sans","fontSize":12,"color":"#1a1a1a"},"encoding":{"text":{"field":"s"}}}
]},
{"width":398,"height":964,
"encoding":{"x":{"field":"x","type":"quantitative","scale":{"domain":[-29,369],"nice":false,"zero":false},"axis":null},"y":{"field":"row","type":"quantitative","scale":{"domain":[-2.825,54.505],"reverse":true,"nice":false,"zero":false},"axis":null}},
"layer":[
{"data":{"name":"segs"},"transform":[{"filter":"datum.t=='R' && datum.k=='g'"}],"mark":{"type":"rule","color":"#a9a9a9","strokeWidth":3.5},"encoding":{"x2":{"field":"x2"},"y2":{"field":"row2"}}},
{"data":{"name":"segs"},"transform":[{"filter":"datum.t=='R' && datum.k=='b'"}],"mark":{"type":"rule","color":"#1a1a1a","strokeWidth":1.4},"encoding":{"x2":{"field":"x2"},"y2":{"field":"row2"}}},
{"data":{"name":"segs"},"transform":[{"filter":"datum.t=='R' && datum.k=='s'"}],"mark":{"type":"rule","color":"#1a1a1a","strokeWidth":4.6},"encoding":{"x2":{"field":"x2"},"y2":{"field":"row2"}}},
{"data":{"name":"segs"},"transform":[{"filter":"datum.t=='R' && datum.k=='l'"}],"mark":{"type":"rule","color":"#1a1a1a","strokeWidth":0.9},"encoding":{"x2":{"field":"x2"},"y2":{"field":"row2"}}},
{"data":{"name":"segs"},"transform":[{"filter":"datum.t=='R' && datum.k=='c'"}],"mark":{"type":"rule","color":"#1a1a1a","strokeWidth":1.1},"encoding":{"x2":{"field":"x2"},"y2":{"field":"row2"}}},
{"data":{"name":"runs"},"transform":[{"filter":"datum.t=='R' && datum.f=='r'"}],"mark":{"type":"text","align":"left","baseline":"middle","font":"Liberation Sans","fontSize":13.5,"color":"#1a1a1a"},"encoding":{"text":{"field":"s"}}},
{"data":{"name":"runs"},"transform":[{"filter":"datum.t=='R' && datum.f=='i'"}],"mark":{"type":"text","align":"left","baseline":"middle","font":"Liberation Sans","fontSize":13.5,"fontStyle":"italic","color":"#1a1a1a"},"encoding":{"text":{"field":"s"}}},
{"data":{"name":"runs"},"transform":[{"filter":"datum.t=='R' && datum.f=='s'"}],"mark":{"type":"text","align":"left","baseline":"middle","font":"Liberation Sans","fontSize":8.5,"dy":-4,"color":"#1a1a1a"},"encoding":{"text":{"field":"s"}}},
{"data":{"name":"runs"},"transform":[{"filter":"datum.t=='R' && datum.f=='b'"}],"mark":{"type":"text","align":"left","baseline":"middle","font":"Liberation Sans","fontSize":13.5,"fontWeight":"bold"},"encoding":{"text":{"field":"s"},"color":{"field":"c","type":"nominal","scale":{"domain":["au","gr","rd"],"range":["#2d2a80","#3c9a46","#b3272d"]},"legend":null}}},
{"data":{"name":"runs"},"transform":[{"filter":"datum.t=='R' && datum.f=='bi'"}],"mark":{"type":"text","align":"left","baseline":"middle","font":"Liberation Sans","fontSize":13.5,"fontWeight":"bold","fontStyle":"italic"},"encoding":{"text":{"field":"s"},"color":{"field":"c","type":"nominal","scale":{"domain":["au","gr","rd"],"range":["#2d2a80","#3c9a46","#b3272d"]},"legend":null}}},
{"data":{"name":"runs"},"transform":[{"filter":"datum.t=='R' && datum.f=='sb'"}],"mark":{"type":"text","align":"left","baseline":"middle","font":"Liberation Sans","fontSize":8.5,"dy":-4,"fontWeight":"bold"},"encoding":{"text":{"field":"s"},"color":{"field":"c","type":"nominal","scale":{"domain":["au","gr","rd"],"range":["#2d2a80","#3c9a46","#b3272d"]},"legend":null}}},
{"data":{"name":"runs"},"transform":[{"filter":"datum.t=='R' && datum.f=='T'"}],"mark":{"type":"text","align":"left","baseline":"middle","font":"Liberation Sans","fontSize":20,"color":"#1a1a1a"},"encoding":{"text":{"field":"s"}}},
{"data":{"name":"runs"},"transform":[{"filter":"datum.t=='R' && datum.f=='n'"}],"mark":{"type":"text","align":"right","baseline":"middle","font":"Liberation Sans","fontSize":12,"color":"#1a1a1a"},"encoding":{"text":{"field":"s"}}}
]}
]
}
